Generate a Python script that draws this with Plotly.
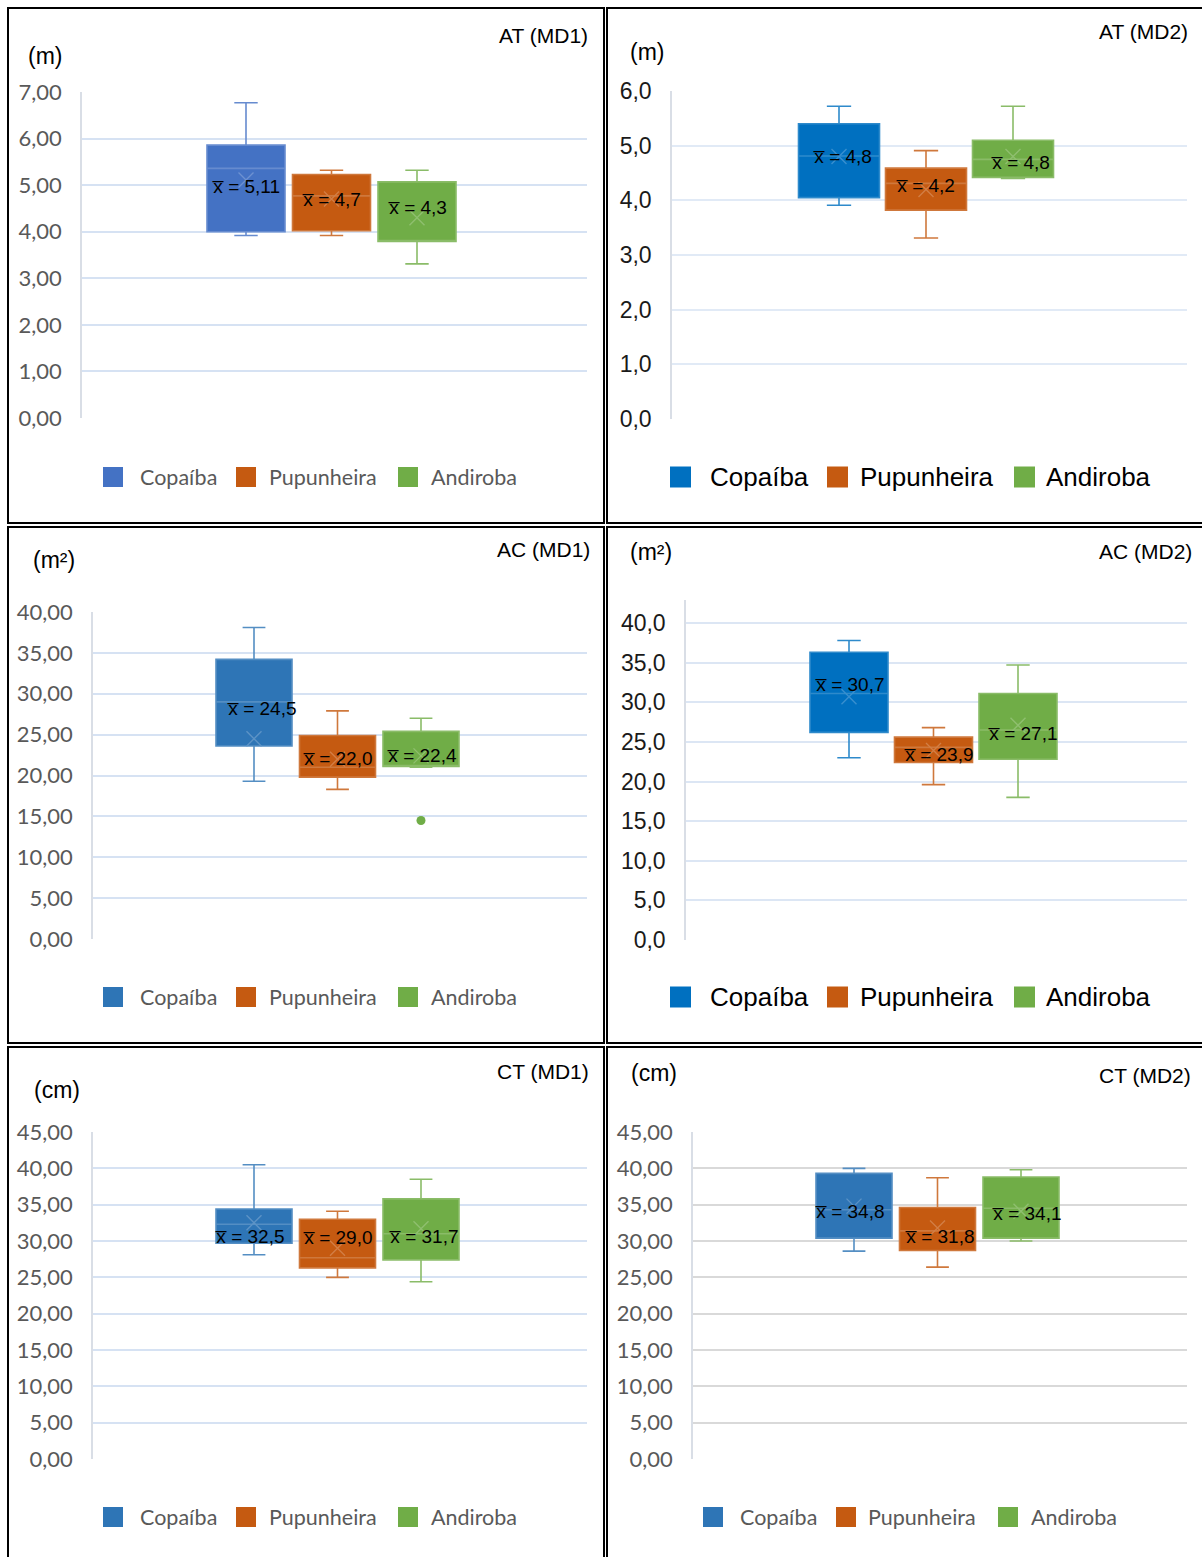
import plotly.graph_objects as go

W, H = 1202, 1557

species = ["Copaíba", "Pupunheira", "Andiroba"]

# AT (MD1) - total height, m
at_md1_lower = [3.92, 3.92, 3.31]
at_md1_q1 = [4.00, 4.02, 3.79]
at_md1_median = [5.36, 4.77, 3.80]
at_md1_q3 = [5.86, 5.23, 5.07]
at_md1_upper = [6.77, 5.32, 5.32]
at_md1_mean = [5.11, 4.7, 4.3]

# AT (MD2) - total height, m
at_md2_lower = [3.91, 3.31, 4.40]
at_md2_q1 = [4.05, 3.82, 4.42]
at_md2_median = [4.81, 4.31, 4.75]
at_md2_q3 = [5.40, 4.59, 5.10]
at_md2_upper = [5.72, 4.91, 5.72]
at_md2_mean = [4.8, 4.2, 4.8]

# AC (MD1) - crown area, m²
ac_md1_lower = [19.3, 18.3, 21.0]
ac_md1_q1 = [23.6, 19.8, 21.1]
ac_md1_median = [29.0, 21.0, 21.2]
ac_md1_q3 = [34.2, 24.9, 25.4]
ac_md1_upper = [38.1, 27.9, 27.0]
ac_md1_mean = [24.5, 22.0, 22.4]
ac_md1_outliers = [[], [], [14.5]]

# AC (MD2) - crown area, m²
ac_md2_lower = [23.0, 19.6, 18.0]
ac_md2_q1 = [26.2, 22.4, 22.8]
ac_md2_median = [31.1, 24.3, 26.5]
ac_md2_q3 = [36.3, 25.6, 31.1]
ac_md2_upper = [37.8, 26.8, 34.7]
ac_md2_mean = [30.7, 23.9, 27.1]

# CT (MD1) - trunk circumference, cm
ct_md1_lower = [28.1, 25.0, 24.4]
ct_md1_q1 = [29.7, 26.3, 27.4]
ct_md1_median = [32.3, 27.7, 31.0]
ct_md1_q3 = [34.4, 33.0, 35.8]
ct_md1_upper = [40.5, 34.1, 38.5]
ct_md1_mean = [32.5, 29.0, 31.7]

# CT (MD2) - trunk circumference, cm
ct_md2_lower = [28.6, 26.4, 30.0]
ct_md2_q1 = [30.4, 28.7, 30.4]
ct_md2_median = [34.3, 31.4, 34.5]
ct_md2_q3 = [39.3, 34.6, 38.8]
ct_md2_upper = [40.0, 38.7, 39.8]
ct_md2_mean = [34.8, 31.8, 34.1]

ORANGE = "#C55A11"
GREEN = "#70AD47"

CAL = "Lato"
ARIAL = "Liberation Sans, Arial"

# Layout of each panel, in page pixels
panels = [
    dict(title="AT (MD1)", unit="(m)", stats=(at_md1_lower, at_md1_q1, at_md1_median, at_md1_q3, at_md1_upper, at_md1_mean),
         outliers=None, colors=["#4472C4", ORANGE, GREEN], style="cal",
         x0=82, x1=587, ytop=92, ybot=418, ymax=7, dtick=1, fmt=".2f",
         cx0=246, cx2=417, wpx=78, grid="#d6e2f3",
         border=(8, 8, 604, 523), title_pos=(590, 36), unit_pos=(26, 56),
         legend_y=477, legend_sq=(103, 236, 398), legend_tx=(138, 267, 429),
         lab_shift=[(0, -6), (0, 0), (0, 10)]),
    dict(title="AT (MD2)", unit="(m)", stats=(at_md2_lower, at_md2_q1, at_md2_median, at_md2_q3, at_md2_upper, at_md2_mean),
         outliers=None, colors=["#0070C0", ORANGE, GREEN], style="arial",
         x0=672, x1=1187, ytop=91, ybot=419, ymax=6, dtick=1, fmt=".1f",
         cx0=839, cx2=1013, wpx=81, grid="#e1eaf6",
         border=(607, 8, 1210, 523), title_pos=(1190, 31), unit_pos=(628, 52),
         legend_y=477, legend_sq=(670, 827, 1014), legend_tx=(708, 858, 1044),
         lab_shift=[(4, 0), (0, 4), (8, -6)]),
    dict(title="AC (MD1)", unit="(m²)", stats=(ac_md1_lower, ac_md1_q1, ac_md1_median, ac_md1_q3, ac_md1_upper, ac_md1_mean),
         outliers=ac_md1_outliers, colors=["#2E75B6", ORANGE, GREEN], style="cal",
         x0=93, x1=587, ytop=612, ybot=939, ymax=40, dtick=5, fmt=".2f",
         cx0=254, cx2=421, wpx=76, grid="#d6e2f3",
         border=(8, 527, 604, 1043), title_pos=(592, 550), unit_pos=(31, 560),
         legend_y=997, legend_sq=(103, 236, 398), legend_tx=(138, 267, 429),
         lab_shift=[(8, 30), (0, 1), (1, 0)]),
    dict(title="AC (MD2)", unit="(m²)", stats=(ac_md2_lower, ac_md2_q1, ac_md2_median, ac_md2_q3, ac_md2_upper, ac_md2_mean),
         outliers=None, colors=["#0070C0", ORANGE, GREEN], style="arial",
         x0=686, x1=1187, ytop=600, ybot=940, ymax=(940 - 600) / 7.925, dtick=5, fmt=".1f",
         cx0=849, cx2=1018, wpx=78, grid="#dce6f4",
         border=(607, 527, 1210, 1043), title_pos=(1194, 551), unit_pos=(628, 552),
         legend_y=997, legend_sq=(670, 827, 1014), legend_tx=(708, 858, 1044),
         lab_shift=[(1, 12), (5, -4), (5, -8)]),
    dict(title="CT (MD1)", unit="(cm)", stats=(ct_md1_lower, ct_md1_q1, ct_md1_median, ct_md1_q3, ct_md1_upper, ct_md1_mean),
         outliers=None, colors=["#2E75B6", ORANGE, GREEN], style="cal",
         x0=93, x1=587, ytop=1132, ybot=1459, ymax=45, dtick=5, fmt=".2f",
         cx0=254, cx2=421, wpx=76, grid="#d6e2f3",
         border=(8, 1047, 604, 1570), title_pos=(591, 1071), unit_pos=(32, 1090),
         legend_y=1517, legend_sq=(103, 236, 398), legend_tx=(138, 267, 429),
         lab_shift=[(-4, -14), (0, 11), (3, -8)]),
    dict(title="CT (MD2)", unit="(cm)", stats=(ct_md2_lower, ct_md2_q1, ct_md2_median, ct_md2_q3, ct_md2_upper, ct_md2_mean),
         outliers=None, colors=["#2E75B6", ORANGE, GREEN], style="cal",
         x0=693, x1=1187, ytop=1132, ybot=1459, ymax=45, dtick=5, fmt=".2f",
         cx0=854, cx2=1021, wpx=76, grid="#d9d9d9",
         border=(607, 1047, 1210, 1570), title_pos=(1193, 1075), unit_pos=(629, 1073),
         legend_y=1517, legend_sq=(703, 836, 998), legend_tx=(738, 866, 1029),
         lab_shift=[(-4, -5), (2, -9), (6, -2)]),
]


def tint(hex_color, f):
    h = hex_color.lstrip("#")
    r, g, b = (int(h[i:i + 2], 16) for i in (0, 2, 4))
    r, g, b = (round(c + (255 - c) * f) for c in (r, g, b))
    return f"#{r:02x}{g:02x}{b:02x}"


def px_x(x):
    return x / W


def px_y(y):
    return 1 - y / H


def mean_text(m):
    s = f"{m:.2f}".rstrip("0")
    if s.endswith("."):
        s += "0"
    return "x\u0305 = " + s.replace(".", ",")


fig = go.Figure()
shapes = []
annotations = []
layout_axes = {}

for k, p in enumerate(panels, start=1):
    xa, ya = f"x{k}", f"y{k}"
    lower, q1, median, q3, upper, mean = p["stats"]
    step = (p["cx2"] - p["cx0"]) / 2
    xr = [(p["x0"] - p["cx0"]) / step, (p["x1"] - p["cx0"]) / step]
    box_w = p["wpx"] / step
    cal = p["style"] == "cal"

    for i, name in enumerate(species):
        col = p["colors"][i]
        edge = tint(col, 0.18)
        fig.add_trace(go.Box(
            x=[i], q1=[q1[i]], median=[median[i]], q3=[q3[i]],
            lowerfence=[lower[i]], upperfence=[upper[i]],
            width=box_w, whiskerwidth=0.3, boxpoints=False,
            fillcolor=col, line=dict(color=edge, width=1.6),
            name=name, showlegend=False, hoverinfo="skip",
            xaxis=xa, yaxis=ya,
        ))
        fig.add_trace(go.Scatter(
            x=[i], y=[mean[i]], mode="markers",
            marker=dict(symbol="x-thin", size=15, line=dict(width=1.4, color=tint(col, 0.22))),
            showlegend=False, hoverinfo="skip", xaxis=xa, yaxis=ya,
        ))
        if p["outliers"] and p["outliers"][i]:
            fig.add_trace(go.Scatter(
                x=[i] * len(p["outliers"][i]), y=p["outliers"][i], mode="markers",
                marker=dict(symbol="circle", size=9, color=col),
                showlegend=False, hoverinfo="skip", xaxis=xa, yaxis=ya,
            ))
        dx, dy = p["lab_shift"][i]
        annotations.append(dict(
            x=i, y=mean[i], xref=xa, yref=ya, text=mean_text(mean[i]),
            showarrow=False, xshift=dx, yshift=dy,
            font=dict(family=ARIAL, size=19, color="#000000"),
        ))

    axis_suffix = "" if k == 1 else str(k)
    layout_axes["xaxis" + axis_suffix] = dict(
        domain=[px_x(p["x0"]), px_x(p["x1"])], range=xr, anchor=ya,
        showgrid=False, zeroline=False, showline=False, showticklabels=False,
        automargin=False,
    )
    tick_font = dict(family=CAL, size=22, color="#595959") if cal else dict(family=ARIAL, size=23, color="#1a1a1a")
    layout_axes["yaxis" + axis_suffix] = dict(
        domain=[px_y(p["ybot"]), px_y(p["ytop"])], range=[0, p["ymax"]], anchor=xa,
        tick0=0, dtick=p["dtick"], tickformat=p["fmt"], ticks="",
        showgrid=True, gridcolor=p["grid"], gridwidth=2,
        zeroline=False, showline=True, linecolor="#d9dee6", linewidth=1.5,
        tickfont=tick_font, ticklabelstandoff=14, automargin=False,
    )

    # panel frame
    bx0, by0, bx1, by1 = p["border"]
    shapes.append(dict(type="rect", xref="paper", yref="paper",
                       x0=px_x(bx0), x1=px_x(bx1), y0=px_y(by1), y1=px_y(by0),
                       line=dict(color="#000000", width=2), fillcolor="rgba(0,0,0,0)"))

    # variable name and unit
    tx, ty = p["title_pos"]
    annotations.append(dict(x=px_x(tx), y=px_y(ty), xref="paper", yref="paper",
                            text=p["title"], showarrow=False, xanchor="right", yanchor="middle",
                            font=dict(family=ARIAL, size=21, color="#000000")))
    ux, uy = p["unit_pos"]
    annotations.append(dict(x=px_x(ux), y=px_y(uy), xref="paper", yref="paper",
                            text=p["unit"], showarrow=False, xanchor="left", yanchor="middle",
                            font=dict(family=ARIAL, size=23, color="#000000")))

    # legend
    sq = 21 if not cal else 20
    for i, name in enumerate(species):
        sx = p["legend_sq"][i]
        ly = p["legend_y"]
        shapes.append(dict(type="rect", xref="paper", yref="paper",
                           x0=px_x(sx), x1=px_x(sx + sq), y0=px_y(ly + sq / 2), y1=px_y(ly - sq / 2),
                           line=dict(width=0), fillcolor=p["colors"][i]))
        lf = dict(family=CAL, size=21.5, color="#595959") if cal else dict(family=ARIAL, size=26, color="#000000")
        annotations.append(dict(x=px_x(p["legend_tx"][i]), y=px_y(ly), xref="paper", yref="paper",
                                text=name, showarrow=False, xanchor="left", yanchor="middle", font=lf))

fig.update_layout(
    width=W, height=H, margin=dict(l=0, r=0, t=0, b=0, autoexpand=False),
    paper_bgcolor="#ffffff", plot_bgcolor="#ffffff",
    separators=",.", showlegend=False,
    shapes=shapes, annotations=annotations,
    **layout_axes,
)

fig.write_html("out.html")
